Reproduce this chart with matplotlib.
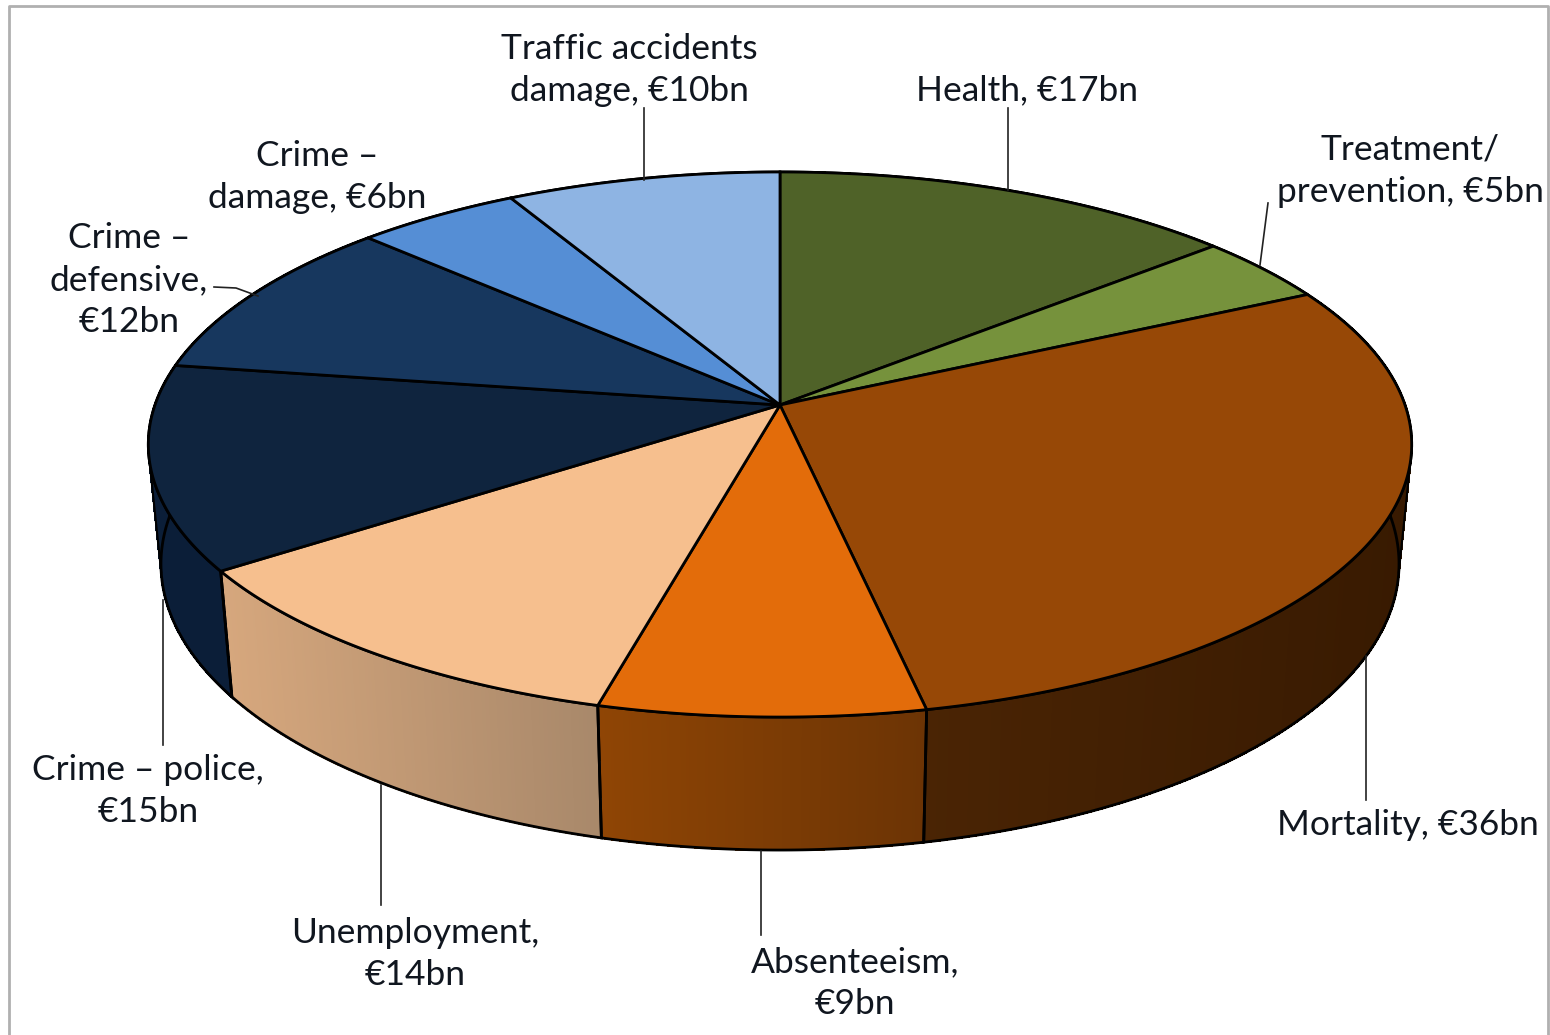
import numpy as np
import matplotlib
matplotlib.use('Agg')
import matplotlib.pyplot as plt
from matplotlib.colors import to_rgb
from matplotlib.patches import Polygon

labels = ['Health, €17bn', 'Treatment/\nprevention, €5bn', 'Mortality, €36bn',
          'Absenteeism,\n€9bn', 'Unemployment,\n€14bn', 'Crime – police,\n€15bn',
          'Crime –\ndefensive,\n€12bn', 'Crime –\ndamage, €6bn',
          'Traffic accidents\ndamage, €10bn']
values = [17, 5, 36, 9, 14, 15, 12, 6, 10]
top_colors = ['#4f6228', '#76923c', '#974806', '#e36c0a', '#f6bf8e',
              '#0f243e', '#17375e', '#558ed5', '#8eb4e3']
side_left = ['#4f6228', '#76923c', '#4a2404', '#8f4505', '#d6a77d',
             '#0b1e38', '#17375e', '#558ed5', '#8eb4e3']
side_right = ['#4f6228', '#76923c', '#381a01', '#6c3405', '#a8886a',
              '#0b1e38', '#17375e', '#558ed5', '#8eb4e3']

# label centres in pixels
label_x = [1027, 1410, 1408, 855, 415, 148, 129, 317, 629]
label_y = [90, 171, 825, 983, 954, 791, 280, 177, 70]

# leader lines (x points, y points)
leaders = [([1008, 1008], [108, 190]),
           ([1268, 1260], [203, 265]),
           ([1366, 1366], [656, 800]),
           ([761, 761], [851, 935]),
           ([381, 381], [785, 905]),
           ([163, 163], [600, 745]),
           ([214, 236, 258], [287, 288, 296]),
           ([644, 644], [108, 180])]

cx, cy = 780, 405
a, b, k = 625, 266.8, 0.145


def top_xy(ang):
    # clockwise from 12 o'clock, with perspective on the disc
    u, v = np.sin(ang), np.cos(ang)
    w = 1 + k*v
    return cx + a*u/w, cy - b*v/w


def bottom_xy(ang):
    x, y = top_xy(ang)
    return cx + 0.98*(x - cx), y + 133 - 0.05*(717 - y)


fig = plt.figure(figsize=(15.5, 10.35), dpi=100)
ax = fig.add_axes([0, 0, 1, 1])
ax.set_xlim(0, 1550)
ax.set_ylim(1035, 0)
ax.axis('off')

# chart frame
ax.plot([9, 9, 1548, 1548], [1040, 6, 6, 1040], color='#b0b0b0', lw=2, zorder=1)

edges = np.cumsum([0] + values)/sum(values)*2*np.pi

# sides first, the top discs cover whatever is hidden
for i in range(len(values)):
    ang = np.linspace(edges[i], edges[i+1], 121)
    c0, c1 = np.array(to_rgb(side_left[i])), np.array(to_rgb(side_right[i]))
    tx, ty = top_xy(ang)
    bx, by = bottom_xy(ang)
    xmin, xmax = tx.min(), tx.max()
    for j in range(len(ang) - 1):
        # the gradient runs left to right on screen
        f = (0.5*(tx[j] + tx[j+1]) - xmin)/(xmax - xmin)
        col = c0 + (c1 - c0)*f
        quad = [(tx[j], ty[j]), (tx[j+1], ty[j+1]), (bx[j+1], by[j+1]), (bx[j], by[j])]
        ax.add_patch(Polygon(quad, fc=col, ec=col, lw=1, antialiased=False, zorder=2))
    outline = list(zip(tx, ty)) + list(zip(bx[::-1], by[::-1]))
    ax.add_patch(Polygon(outline, fc='none', ec='black', lw=2, zorder=3))

# silhouette of the drum at both ends
for deg in [100, 260]:
    t = np.radians(deg)
    x0, y0 = top_xy(t)
    x1, y1 = bottom_xy(t)
    ax.plot([x0, x1], [y0, y1], color='black', lw=1.5, zorder=3)

for i in range(len(values)):
    ang = np.linspace(edges[i], edges[i+1], 121)
    tx, ty = top_xy(ang)
    pts = [(cx, cy)] + list(zip(tx, ty))
    ax.add_patch(Polygon(pts, fc=top_colors[i], ec='black', lw=2, zorder=4,
                         joinstyle='round'))

for xs, ys in leaders:
    ax.plot(xs, ys, color='#222222', lw=1.2, zorder=5)

for name, x, y in zip(labels, label_x, label_y):
    ax.text(x, y, name, ha='center', va='center', family='Lato', fontsize=25.5,
            color='#10161f', linespacing=1.39, zorder=6)

fig.savefig('out.png', dpi=100, facecolor='white')
